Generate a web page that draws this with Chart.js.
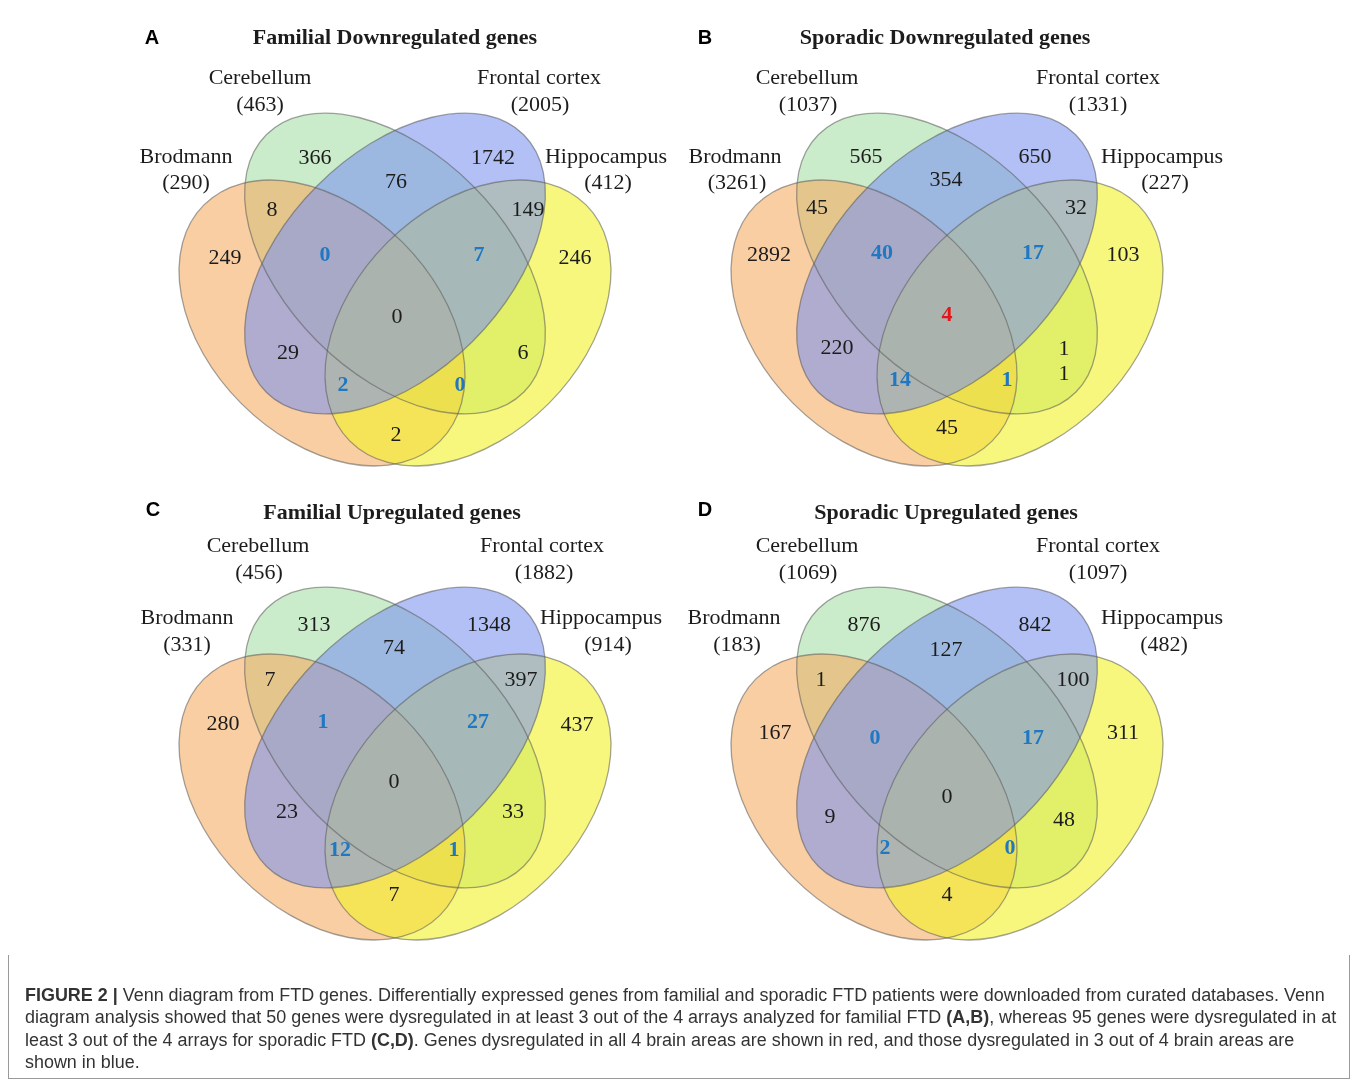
<!DOCTYPE html>
<html>
<head>
<meta charset="utf-8">
<script src="https://cdn.jsdelivr.net/npm/chart.js@4.4.1/dist/chart.umd.min.js"></script>
<style>
    body { margin: 0; background: #fff; width: 1357px; height: 1080px; position: relative; overflow: hidden; }
    .panel { position: absolute; }
    #frame { position: absolute; left: 8px; top: 955px; width: 1340px; height: 123px; border: 1px solid #9a9a9a; border-top: none; }
    #caption { position: absolute; left: 25px; top: 984px; font-family: 'Liberation Sans', Arial, sans-serif; font-size: 17px; line-height: 22.3px; color: #333; white-space: nowrap; }
</style>
</head>
<body>
<canvas id="panelA" class="panel" width="550" height="470"></canvas>
<canvas id="panelB" class="panel" width="550" height="470"></canvas>
<canvas id="panelC" class="panel" width="550" height="470"></canvas>
<canvas id="panelD" class="panel" width="550" height="470"></canvas>
<div id="frame"></div>
<div id="caption">
    <div class="ln" id="firstLine"><b>FIGURE 2 |</b> Venn diagram from FTD genes. Differentially expressed genes from familial and sporadic FTD patients were downloaded from curated databases. Venn</div>
    <div class="ln">diagram analysis showed that 50 genes were dysregulated in at least 3 out of the 4 arrays analyzed for familial FTD <b>(A,B)</b>, whereas 95 genes were dysregulated in at</div>
    <div class="ln">least 3 out of the 4 arrays for sporadic FTD <b>(C,D)</b>. Genes dysregulated in all 4 brain areas are shown in red, and those dysregulated in 3 out of 4 brain areas are</div>
    <div class="ln">shown in blue.</div>
</div>
<script>
// --- data ---
const setNames = ['Brodmann', 'Cerebellum', 'Frontal cortex', 'Hippocampus'];
// region order: single sets, pairs, triples, all four
const regions = ['B', 'C', 'F', 'H', 'BC', 'CF', 'FH', 'BF', 'CH', 'BH', 'BCF', 'CFH', 'BFH', 'BCH', 'BCFH'];
const panelLetters = ['A', 'B', 'C', 'D'];
const panelTitles = ['Familial Downregulated genes', 'Sporadic Downregulated genes', 'Familial Upregulated genes', 'Sporadic Upregulated genes'];

const familialDownTotals = [290, 463, 2005, 412];
const familialDownCounts = [249, 366, 1742, 246, 8, 76, 149, 29, 6, 2, 0, 7, 2, 0, 0];
const sporadicDownTotals = [3261, 1037, 1331, 227];
const sporadicDownCounts = [2892, 565, 650, 103, 45, 354, 32, 220, [1, 1], 45, 40, 17, 14, 1, 4];
const familialUpTotals = [331, 456, 1882, 914];
const familialUpCounts = [280, 313, 1348, 437, 7, 74, 397, 23, 33, 7, 1, 27, 12, 1, 0];
const sporadicUpTotals = [183, 1069, 1097, 482];
const sporadicUpCounts = [167, 876, 842, 311, 1, 127, 100, 9, 48, 4, 0, 17, 2, 0, 0];

// --- layout (panel units, x from symmetry axis, y down from panel top) ---
const PANEL_AXIS = [395, 947, 395, 947];
const PANEL_TOP = [20, 20, 494, 494];
const X_MIN = -265, X_MAX = 285, Y_MAX = 470;

// drawn in this order: green, orange, yellow, blue
const ELLIPSES = [
    { cx: 0,   cy: 243.5, a: 182, b: 110, rot: 45,  fill: 'rgba(168,223,168,0.6)' },
    { cx: -73, cy: 303,   a: 167, b: 114, rot: 45,  fill: 'rgba(245,173,100,0.6)' },
    { cx: 73,  cy: 303,   a: 167, b: 114, rot: -45, fill: 'rgba(242,242,38,0.6)' },
    { cx: 0,   cy: 243.5, a: 182, b: 110, rot: -45, fill: 'rgba(127,150,238,0.6)' }
];

const COUNT_POS = [
    [[-170,238],[-80,138],[98,138],[180,238],[-123,190],[1,162],[133,190],[-107,333],[128,333],[1,415],[-70,235],[84,235],[-52,365],[65,365],[2,297]],
    [[-178,235],[-81,137],[88,137],[176,235],[-130,188],[-1,160],[129,188],[-110,328],[117,342],[0,408],[-65,233],[86,233],[-47,360],[60,360],[0,295]],
    [[-172,230],[-81,131],[94,131],[182,231],[-125,186],[-1,154],[126,186],[-108,318],[118,318],[-1,401],[-72,228],[83,228],[-55,356],[59,356],[-1,288]],
    [[-172,239],[-83,131],[88,131],[176,239],[-126,186],[-1,156],[126,186],[-117,323],[117,326],[0,401],[-72,244],[86,244],[-62,354],[63,354],[0,303]]
];
// per panel: title, letter, then name/total pairs for the four sets
const TEXT_POS = [
    { title: [0,18], letter: [-243,18], names: [[-209,137],[-135,58],[144,58],[211,137]], totals: [[-209,163],[-135,85],[145,85],[213,163]] },
    { title: [-2,18], letter: [-242,18], names: [[-212,137],[-140,58],[151,58],[215,137]], totals: [[-210,163],[-139,85],[151,85],[218,163]] },
    { title: [-3,19], letter: [-242,16], names: [[-208,124],[-137,52],[147,52],[206,124]], totals: [[-208,151],[-136,79],[149,79],[213,151]] },
    { title: [-1,19], letter: [-242,16], names: [[-213,124],[-140,52],[151,52],[215,124]], totals: [[-210,151],[-139,79],[151,79],[217,151]] }
];

const SERIF = "'Liberation Serif', 'Times New Roman', serif";
const SANS = "'Liberation Sans', Arial, sans-serif";
const BLACK = '#1c1c1c', BLUE = '#1f78c1', RED = '#e4161b';

function countStyle(i, v) {
    const n = regions[i].length;
    if (n === 3) return { color: BLUE, bold: true };
    if (n === 4 && v > 0) return { color: RED, bold: true };
    return { color: BLACK, bold: false };
}

const vennPlugin = {
    id: 'venn',
    beforeDatasetsDraw(chart) {
        const { ctx, scales: { x, y } } = chart;
        const unit = Math.abs(x.getPixelForValue(1) - x.getPixelForValue(0));
        const path = e => {
            ctx.beginPath();
            ctx.ellipse(x.getPixelForValue(e.cx), y.getPixelForValue(e.cy), e.a * unit, e.b * unit, e.rot * Math.PI / 180, 0, Math.PI * 2);
        };
        ctx.save();
        ELLIPSES.forEach(e => {
            path(e);
            ctx.fillStyle = e.fill;
            ctx.fill();
        });
        // outlines stay visible through every fill
        ctx.lineWidth = 1.3;
        ctx.strokeStyle = 'rgba(90,90,90,0.55)';
        ELLIPSES.forEach(e => { path(e); ctx.stroke(); });
        ctx.restore();
    },
    afterDatasetsDraw(chart) {
        const { ctx, scales: { x, y } } = chart;
        const p = chart.options.plugins.venn;
        const tp = TEXT_POS[p.panel];
        ctx.save();
        ctx.textAlign = 'center';
        ctx.textBaseline = 'middle';

        // region counts, placed on the points the library laid out
        chart.getDatasetMeta(0).data.forEach((pt, i) => {
            const v = p.counts[i];
            const st = countStyle(i, v);
            ctx.fillStyle = st.color;
            ctx.font = (st.bold ? 'bold ' : '') + '22px ' + SERIF;
            const lines = Array.isArray(v) ? v : [v];
            lines.forEach((t, k) => {
                ctx.fillText(String(t), pt.x, pt.y + (k - (lines.length - 1) / 2) * 25);
            });
        });

        // set names and totals
        ctx.fillStyle = BLACK;
        ctx.font = '22px ' + SERIF;
        setNames.forEach((name, i) => {
            ctx.fillText(name, x.getPixelForValue(tp.names[i][0]), y.getPixelForValue(tp.names[i][1]));
            ctx.fillText('(' + p.totals[i] + ')', x.getPixelForValue(tp.totals[i][0]), y.getPixelForValue(tp.totals[i][1]));
        });

        // panel title and letter
        ctx.font = 'bold 22px ' + SERIF;
        ctx.fillText(p.title, x.getPixelForValue(tp.title[0]), y.getPixelForValue(tp.title[1]));
        ctx.fillStyle = '#000';
        ctx.font = 'bold 20px ' + SANS;
        ctx.fillText(p.letter, x.getPixelForValue(tp.letter[0]), y.getPixelForValue(tp.letter[1]));
        ctx.restore();
    }
};

const panelCounts = [familialDownCounts, sporadicDownCounts, familialUpCounts, sporadicUpCounts];
const panelTotals = [familialDownTotals, sporadicDownTotals, familialUpTotals, sporadicUpTotals];

panelLetters.forEach((letter, k) => {
    const canvas = document.getElementById('panel' + letter);
    canvas.style.left = (PANEL_AXIS[k] + X_MIN) + 'px';
    canvas.style.top = PANEL_TOP[k] + 'px';

    new Chart(canvas, {
        type: 'scatter',
        data: {
            datasets: [{
                data: regions.map((r, i) => ({ x: COUNT_POS[k][i][0], y: COUNT_POS[k][i][1] })),
                pointRadius: 0,
                pointHoverRadius: 0
            }]
        },
        options: {
            responsive: false,
            animation: false,
            events: [],
            layout: { padding: 0 },
            scales: {
                x: { type: 'linear', min: X_MIN, max: X_MAX, display: false },
                y: { type: 'linear', min: 0, max: Y_MAX, reverse: true, display: false }
            },
            plugins: {
                legend: { display: false },
                tooltip: { enabled: false },
                venn: { panel: k, letter: letter, title: panelTitles[k], counts: panelCounts[k], totals: panelTotals[k] }
            }
        },
        plugins: [vennPlugin]
    });
});

// stretch the caption so the first line ends where the original does
const first = document.getElementById('firstLine');
const cap = document.getElementById('caption');
const w = first.getBoundingClientRect().width;
cap.style.fontSize = (17 * 1313 / w).toFixed(2) + 'px';
</script>
</body>
</html>
